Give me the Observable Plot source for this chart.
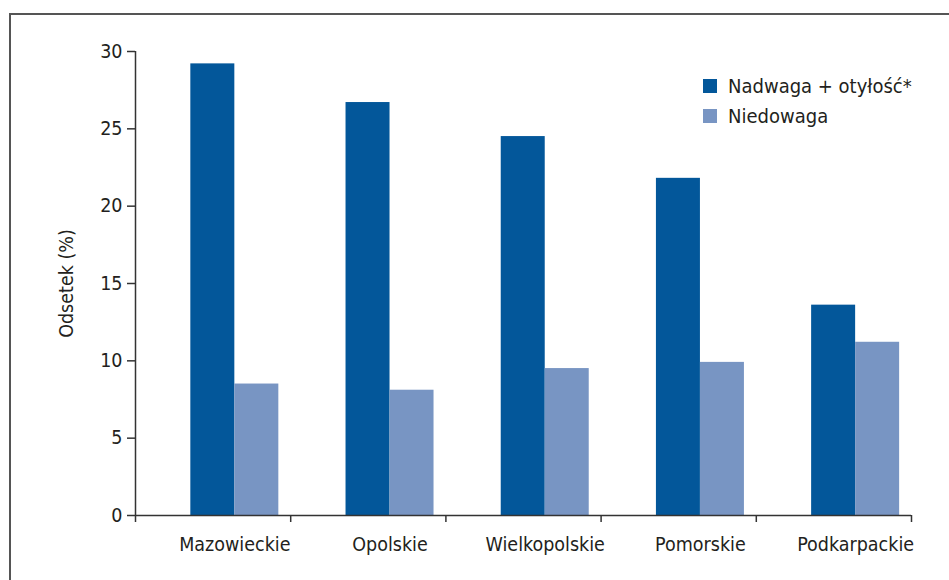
<!DOCTYPE html>
<html>
<head>
<meta charset="utf-8">
<script src="https://cdn.jsdelivr.net/npm/d3@7"></script>
<script src="https://cdn.jsdelivr.net/npm/@observablehq/plot@0.6"></script>
<style>
  html, body { margin: 0; padding: 0; background: #fff; }
  #wrap { position: relative; width: 949px; height: 580px; overflow: hidden;
          font-family: "Liberation Sans Narrow", "DejaVu Sans Condensed", sans-serif; }
  #frame { position: absolute; left: 9px; top: 13px; width: 960px; height: 600px;
           border-left: 2px solid #555; border-top: 2px solid #555; }
  #legend { position: absolute; left: 703px; top: 71px; font-size: 20px; color: #231f20; }
  .item { display: flex; align-items: center; height: 30px; }
  .sw { width: 14px; height: 14px; margin-right: 11px; }
  svg { position: absolute; left: 0; top: 0; }
</style>
</head>
<body>
<div id="wrap"><div id="frame"></div><div id="legend"></div></div>
<script>
const regions = ["Mazowieckie", "Opolskie", "Wielkopolskie", "Pomorskie", "Podkarpackie"];
const nadwaga = [29.2, 26.7, 24.5, 21.8, 13.6];
const niedowaga = [8.5, 8.1, 9.5, 9.9, 11.2];
const seriesNames = ["Nadwaga + otyłość*", "Niedowaga"];
const colors = ["#03579a", "#7895c3"];
const yTicks = [0, 5, 10, 15, 20, 25, 30];

// layout constants (in category units)
const center = 0.64;
const barW = 0.2835;

const rows = [];
regions.forEach((r, i) => {
  rows.push({region: r, series: seriesNames[0], value: nadwaga[i], x1: i + center - barW, x2: i + center});
  rows.push({region: r, series: seriesNames[1], value: niedowaga[i], x1: i + center, x2: i + center + barW});
});

const axisColor = "#333";
const chart = Plot.plot({
  width: 949,
  height: 580,
  marginLeft: 135,
  marginRight: 38,
  marginTop: 51,
  marginBottom: 65,
  style: {fontFamily: '"Liberation Sans Narrow", "DejaVu Sans Condensed", sans-serif', fontSize: "19.5px", color: "#231f20", background: "transparent"},
  x: {domain: [0, regions.length]},
  y: {domain: [0, 30]},
  color: {domain: seriesNames, range: colors},
  marks: [
    Plot.rectY(rows, {x1: "x1", x2: "x2", y: "value", fill: "series"}),
    Plot.ruleX([0], {y1: 0, y2: 30, stroke: axisColor, strokeWidth: 1.5}),
    Plot.ruleY([0], {stroke: axisColor, strokeWidth: 1.5}),
    Plot.axisY({ticks: yTicks, tickSize: 8, tickPadding: 5, stroke: axisColor, strokeWidth: 1.5,
      label: "Odsetek (%)", labelAnchor: "center", labelArrow: "none", labelOffset: 76}),
    Plot.axisX({ticks: d3.range(regions.length + 1), tickSize: 7, tickFormat: () => "", stroke: axisColor, strokeWidth: 1.5}),
    Plot.axisX({ticks: regions.map((d, i) => i + center), tickSize: 0, tickPadding: 22,
      tickFormat: (d) => regions[Math.round(d - center)], label: null})
  ]
});
document.getElementById("wrap").appendChild(chart);

const legend = document.getElementById("legend");
seriesNames.forEach((s, i) => {
  const it = document.createElement("div");
  it.className = "item";
  it.innerHTML = `<span class="sw" style="background:${colors[i]}"></span><span>${s}</span>`;
  legend.appendChild(it);
});
</script>
</body>
</html>
